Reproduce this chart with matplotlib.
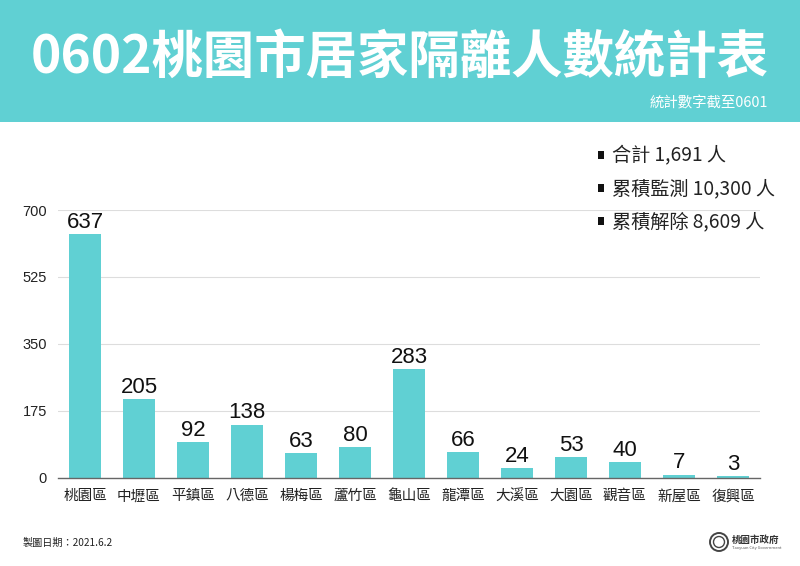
import matplotlib
matplotlib.use("Agg")
import matplotlib.pyplot as plt
from matplotlib.patches import Rectangle, Circle

plt.rcParams['font.family'] = ['Noto Sans CJK TC', 'DejaVu Sans']

districts = ["桃園區", "中壢區", "平鎮區", "八德區", "楊梅區", "蘆竹區", "龜山區",
             "龍潭區", "大溪區", "大園區", "觀音區", "新屋區", "復興區"]
counts = [637, 205, 92, 138, 63, 80, 283, 66, 24, 53, 40, 7, 3]
y_ticks = [0, 175, 350, 525, 700]
title = "0602桃園市居家隔離人數統計表"
subtitle = "統計數字截至0601"
notes = ["合計 1,691 人", "累積監測 10,300 人", "累積解除 8,609 人"]
date_note = "製圖日期：2021.6.2"

TEAL = "#60D0D3"
W, H = 800, 566
fig = plt.figure(figsize=(W / 100, H / 100), dpi=100, facecolor="white")

bg = fig.add_axes([0, 0, 1, 1])
bg.set_xlim(0, W)
bg.set_ylim(H, 0)
bg.axis("off")
bg.add_patch(Rectangle((0, 0), W, 122, color=TEAL, lw=0))
bg.text(400, 57, title, color="white", fontsize=37, fontweight="bold",
        ha="center", va="center")
bg.text(768, 103, subtitle, color="white", fontsize=10.4, ha="right", va="center")

for yy, s in zip([155, 188, 221], notes):
    bg.add_patch(Rectangle((598, yy - 4), 6, 8, color="#111111", lw=0))
    bg.text(612, yy + 0.5, s, color="#222222", fontsize=13.8, ha="left", va="center")

bg.text(23, 543, date_note, color="#222222", fontsize=7.3, fontweight="medium",
        ha="left", va="center")

# Taoyuan City Government mark
bg.add_patch(Circle((719, 542), 9, fill=False, ec="#444444", lw=1.4))
bg.add_patch(Circle((719, 542), 5.5, fill=False, ec="#444444", lw=1.0))
bg.text(732, 540, "桃園市政府", color="#333333", fontsize=6.8, fontweight="bold",
        ha="left", va="center")
bg.text(732, 548.5, "Taoyuan City Government", color="#555555", fontsize=2.9,
        ha="left", va="center")

ax = fig.add_axes([58 / W, 1 - 477.5 / H, 702 / W, 267.5 / H])
ax.patch.set_alpha(0)
x = list(range(len(districts)))
ax.bar(x, counts, width=0.58, color=TEAL, zorder=2)
ax.set_xlim(-0.5, len(districts) - 0.5)
ax.set_ylim(0, 700)
ax.set_yticks(y_ticks)
ax.set_xticks(x, districts)
ax.yaxis.grid(True, color="#DDDDDD", lw=0.8, zorder=0)
ax.set_axisbelow(True)
for s in ["top", "left", "right"]:
    ax.spines[s].set_visible(False)
ax.spines["bottom"].set_color("#666666")
ax.spines["bottom"].set_linewidth(1)
ax.tick_params(axis="both", length=0, labelcolor="#222222")
ax.tick_params(axis="y", labelsize=10.5, pad=8)
ax.tick_params(axis="x", labelsize=10.5, pad=8.5)
for lab in ax.get_yticklabels():
    lab.set_family(["Liberation Sans"])
for xi, v in zip(x, counts):
    ax.annotate(str(v), (xi, v), xytext=(0, 1), textcoords="offset points",
                ha="center", va="bottom", fontsize=16, color="#111111",
                family=["Liberation Sans"])

fig.savefig("out.png", dpi=100, facecolor="white")
